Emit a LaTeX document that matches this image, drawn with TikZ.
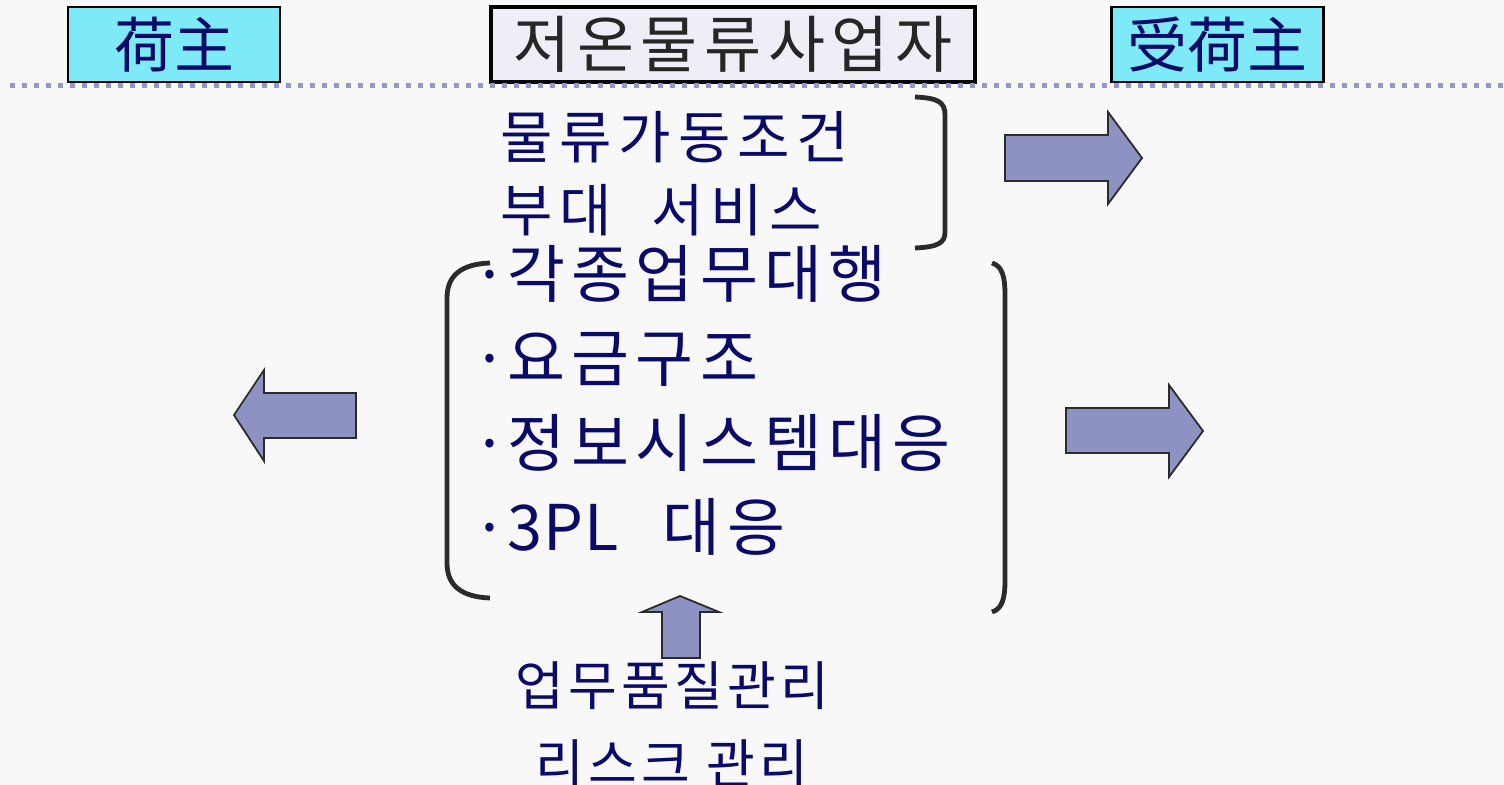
\documentclass[tikz,border=0pt]{standalone}
\usepackage{fontspec}
\newfontfamily\kr{Noto Sans CJK KR}
\newfontfamily\jp{Noto Sans CJK JP}
\definecolor{bgcol}{HTML}{F8F8F8}
\definecolor{navy}{HTML}{0A0A68}
\definecolor{cyanbox}{HTML}{7FEAF7}
\definecolor{lavbox}{HTML}{EEEEF6}
\definecolor{dotcol}{HTML}{9696C8}
\definecolor{arrowfill}{HTML}{8E92C2}
\definecolor{linecol}{HTML}{2B2B2B}
\definecolor{titlecol}{HTML}{262626}
\begin{document}
\begin{tikzpicture}[x=0.5pt,y=-0.5pt,
  rolebox/.style={draw=black, line width=1.2pt, fill=cyanbox, minimum width=106pt, minimum height=37.5pt, inner sep=0pt, text=navy, font=\jp\fontsize{30}{30}\selectfont},
  titlebox/.style={draw=black, line width=1.9pt, fill=lavbox, minimum width=242pt, minimum height=37.5pt, inner sep=0pt, text=titlecol, font={\kr\fontsize{31}{31}\selectfont\addfontfeatures{LetterSpace=10.5}}},
  dotline/.style={draw=dotcol, line width=2.5pt, dash pattern=on 2.5pt off 3.5pt},
  bigarrow/.style={draw=linecol, line width=0.9pt, fill=arrowfill, line join=miter},
  bracket/.style={draw=linecol, line width=2.4pt, line cap=butt},
  itemtext/.style={anchor=west, inner sep=0pt, text=navy, font={\kr\fontsize{31.5}{31.5}\selectfont\addfontfeatures{LetterSpace=10}}},
  subtext/.style={anchor=west, inner sep=0pt, text=navy, font={\kr\fontsize{28.5}{28.5}\selectfont\addfontfeatures{LetterSpace=12}}},
  bottomtext/.style={anchor=center, inner sep=0pt, text=navy, font={\kr\fontsize{26.5}{26.5}\selectfont\addfontfeatures{LetterSpace=8}}}
]
\fill[bgcol] (0,0) rectangle (1504,785);
\useasboundingbox (0,0) rectangle (1504,785);

% header boxes
\node[rolebox] (shipper) at (174,44.5) {荷主};
\node[titlebox] (carrier) at (733,44.5) {저온물류사업자};
\node[rolebox] (consignee) at (1217.5,44.5) {受荷主};

% dotted separator
\coordinate (dl) at (10,86);
\coordinate (dr) at (1504,86);
\draw[dotline] (dl) -- (dr);

% upper text
\node[subtext] (t1) at (500,137) {물류가동조건};
\node[subtext] (t2) at (500,210) {부대\ \ 서비스};

% upper right bracket
\draw[bracket] (915,97) .. controls (938,98) and (945,102) .. (945,115) -- (945,232) .. controls (945,243) and (938,247) .. (915,248);

% upper right arrow
\draw[bigarrow] (1005,135) -- (1108,135) -- (1108,112) -- (1142,158) -- (1108,204) -- (1108,181) -- (1005,181) -- cycle;

% item list
\node[itemtext] (i1) at (507,274) {\llap{·}각종업무대행};
\node[itemtext] (i2) at (507,359) {\llap{·}요금구조};
\node[itemtext] (i3) at (507,443) {\llap{·}정보시스템대응};
\node[itemtext] (i4) at (507,527) {\llap{·}{\addfontfeatures{LetterSpace=2}3PL}\hspace{22pt}대응};

% left bracket
\draw[bracket] (490,263) .. controls (462,264) and (447,275) .. (447,298) -- (447,563) .. controls (447,586) and (462,597) .. (490,598);
% right bracket
\draw[bracket] (992,263) .. controls (1002,266) and (1005,276) .. (1005,295) -- (1005,580) .. controls (1005,599) and (1002,609) .. (992,612);

% left arrow
\draw[bigarrow] (356,393) -- (264,393) -- (264,370) -- (234,415) -- (264,461) -- (264,438) -- (356,438) -- cycle;
% right middle arrow
\draw[bigarrow] (1066,408) -- (1169,408) -- (1169,385) -- (1203,431) -- (1169,477) -- (1169,453) -- (1066,453) -- cycle;
% up arrow
\draw[bigarrow] (662,658) -- (662,612) -- (642,612) -- (680,596) -- (719,612) -- (700,612) -- (700,658) -- cycle;

% bottom text
\node[bottomtext] (b1) at (672,686) {업무품질관리};
\node[bottomtext] (b2) at (672,764) {리스크 관리};
\end{tikzpicture}
\end{document}
